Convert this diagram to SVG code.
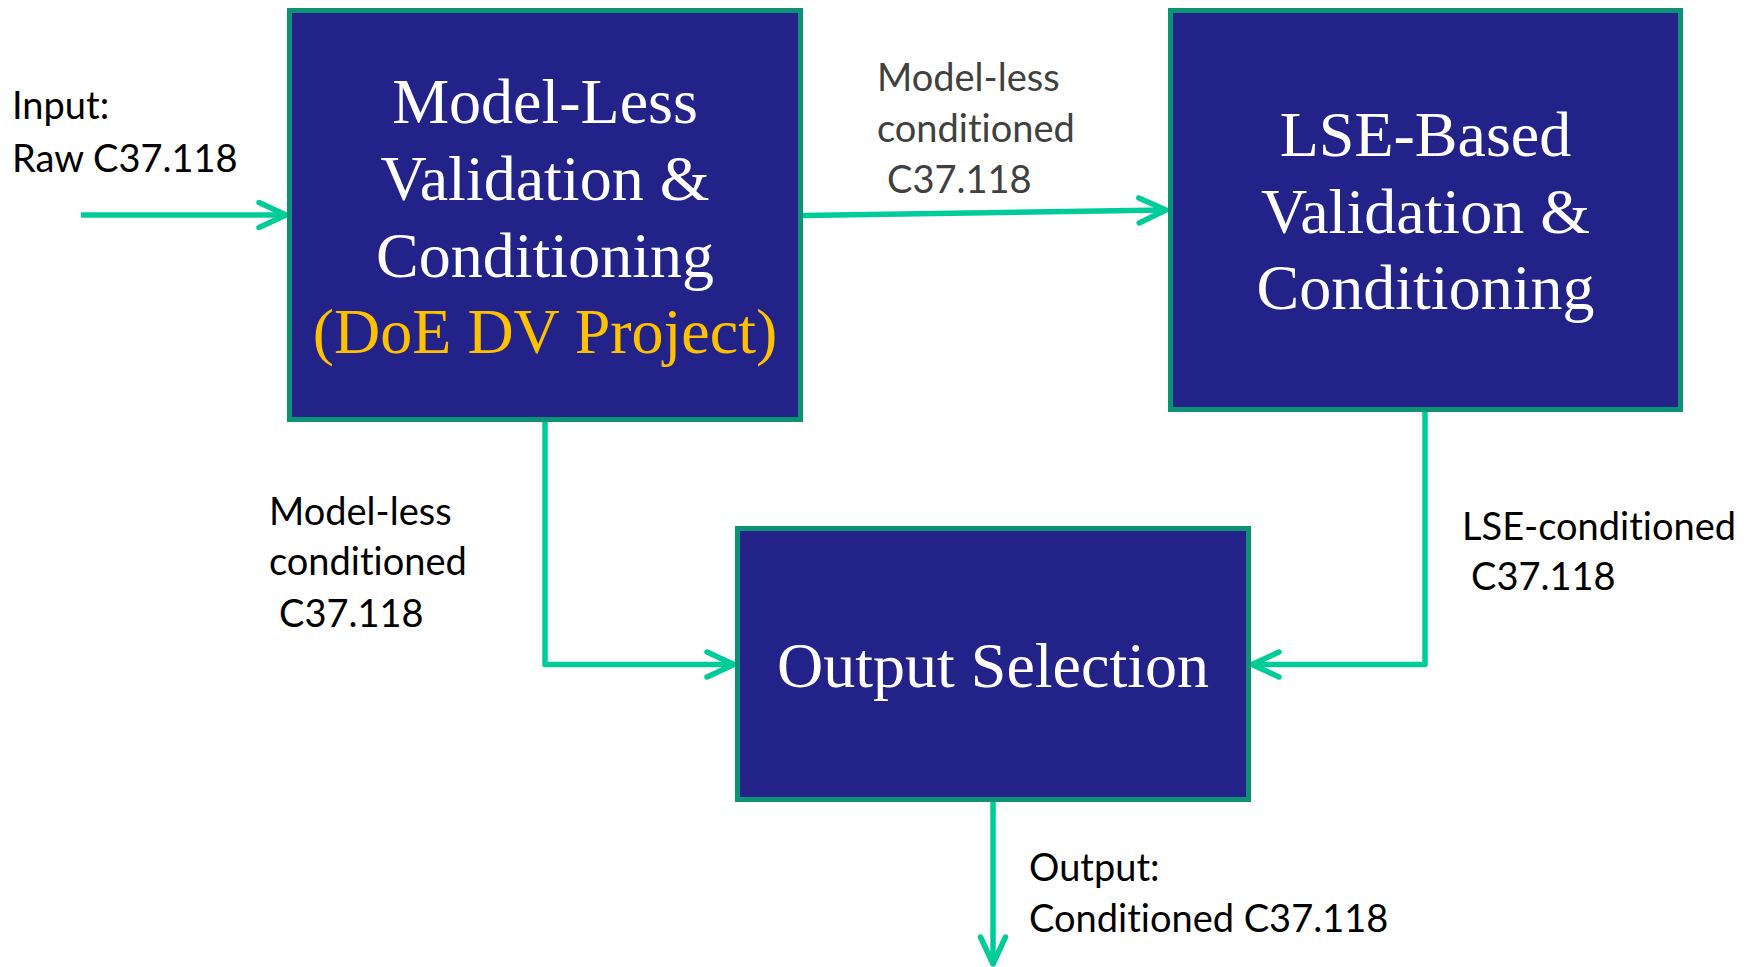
<svg xmlns="http://www.w3.org/2000/svg" width="1752" height="967" viewBox="0 0 1752 967">
  <style>
    .box { fill: #222288; stroke: #0b9373; stroke-width: 5; }
    .title { font-family: "Liberation Serif", "Times New Roman", serif; font-size: 64px; fill: #ffffff; text-anchor: middle; }
    .accent { fill: #ffc000; }
    .label { font-family: Lato, "Liberation Sans", sans-serif; font-size: 38px; fill: #000000; font-variant-ligatures: none; font-feature-settings: "liga" 0, "clig" 0, "calt" 0, "dlig" 0; }
    .muted { fill: #404040; }
    .link { fill: none; stroke: #00cc99; stroke-width: 5.5; stroke-linejoin: round; marker-end: url(#chevron); }
  </style>
  <defs>
    <marker id="chevron" markerUnits="userSpaceOnUse" viewBox="-34 -20 40 40" markerWidth="40" markerHeight="40" refX="0" refY="0" orient="auto" overflow="visible">
      <path d="M-27,-12.5 L0,0 L-27,12.5" fill="none" stroke="#00cc99" stroke-width="5.5" stroke-linecap="round" stroke-linejoin="round"/>
    </marker>
  </defs>

  <rect width="1752" height="967" fill="#ffffff"/>

  <!-- connectors -->
  <g id="connectors">
    <path class="link" d="M81,215 H286"/>
    <path class="link" d="M803,215.5 L1166,210"/>
    <path class="link" d="M545,422 V664.5 H734"/>
    <path class="link" d="M1425,411 V664.5 H1252"/>
    <path class="link" d="M993,802 V964"/>
  </g>

  <!-- model-less stage -->
  <g id="model-less">
    <rect class="box" x="289.5" y="10.5" width="511" height="409"/>
    <text class="title" x="545" y="123">Model-Less</text>
    <text class="title" x="545" y="200">Validation &amp;</text>
    <text class="title" x="545" y="277">Conditioning</text>
    <text class="title accent" x="545" y="353">(DoE DV Project)</text>
  </g>

  <!-- LSE stage -->
  <g id="lse-based">
    <rect class="box" x="1170.5" y="10.5" width="510" height="399"/>
    <text class="title" x="1425.5" y="156">LSE-Based</text>
    <text class="title" x="1425.5" y="233">Validation &amp;</text>
    <text class="title" x="1425.5" y="309">Conditioning</text>
  </g>

  <!-- selector -->
  <g id="output-selection">
    <rect class="box" x="737.5" y="528.5" width="511" height="271"/>
    <text class="title" x="993" y="687">Output Selection</text>
  </g>

  <!-- signal labels -->
  <g id="labels">
    <text class="label" x="12" y="119">Input:</text>
    <text class="label" x="12" y="172">Raw C37.118</text>

    <text class="label muted" x="877" y="91">Model-less</text>
    <text class="label muted" x="877" y="142">conditioned</text>
    <text class="label muted" x="887" y="193">C37.118</text>

    <text class="label" x="269" y="525">Model-less</text>
    <text class="label" x="269" y="575">conditioned</text>
    <text class="label" x="279" y="627">C37.118</text>

    <text class="label" x="1462" y="540">LSE-conditioned</text>
    <text class="label" x="1471" y="590">C37.118</text>

    <text class="label" x="1029" y="881">Output:</text>
    <text class="label" x="1029" y="932">Conditioned C37.118</text>
  </g>
</svg>
